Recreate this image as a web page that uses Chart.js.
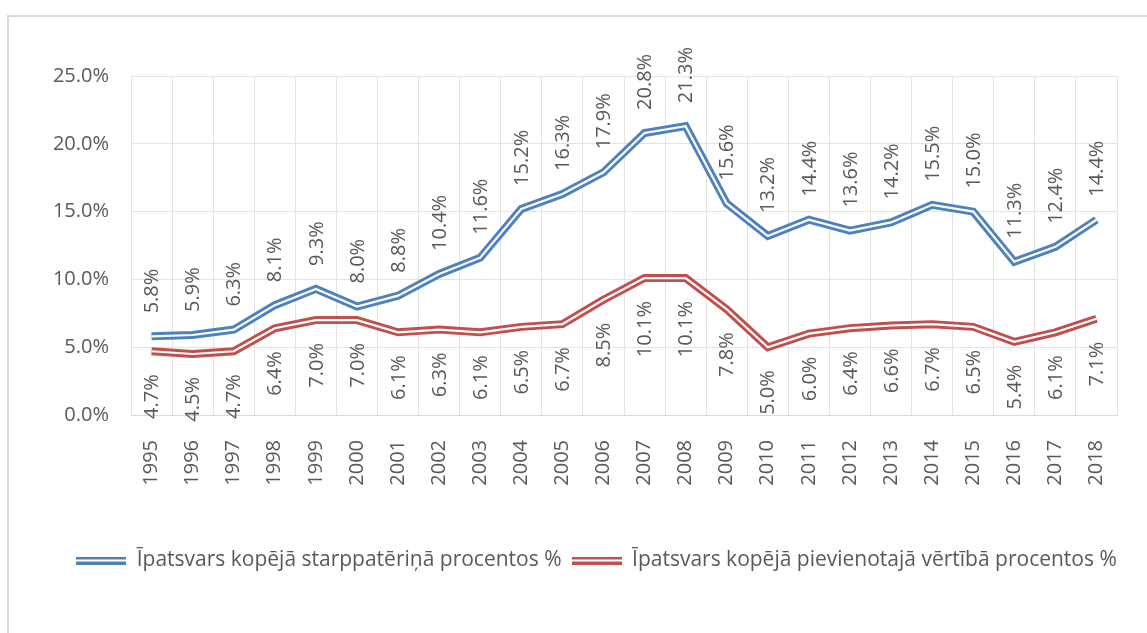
<!DOCTYPE html>
<html>
<head>
<meta charset="utf-8">
<script src="https://cdn.jsdelivr.net/npm/chart.js@4/dist/chart.umd.min.js"></script>
<style>
  html, body { margin: 0; padding: 0; background: #fff; }
  #wrap { position: relative; width: 1147px; height: 633px; overflow: hidden; }
  #frame { position: absolute; left: 7px; top: 15px; width: 1200px; height: 700px;
           border-left: 2px solid #d9d9d9; border-top: 2px solid #d9d9d9; }
  canvas { position: absolute; left: 0; top: 0; }
</style>
</head>
<body>
<div id="wrap">
  <div id="frame"></div>
  <canvas id="chart" width="1147" height="633"></canvas>
</div>
<script>
const years = ['1995','1996','1997','1998','1999','2000','2001','2002','2003','2004','2005','2006',
               '2007','2008','2009','2010','2011','2012','2013','2014','2015','2016','2017','2018'];
const starppateriņs = [5.8, 5.9, 6.3, 8.1, 9.3, 8.0, 8.8, 10.4, 11.6, 15.2, 16.3, 17.9,
                       20.8, 21.3, 15.6, 13.2, 14.4, 13.6, 14.2, 15.5, 15.0, 11.3, 12.4, 14.4];
const pievienotaVertiba = [4.7, 4.5, 4.7, 6.4, 7.0, 7.0, 6.1, 6.3, 6.1, 6.5, 6.7, 8.5,
                           10.1, 10.1, 7.8, 5.0, 6.0, 6.4, 6.6, 6.7, 6.5, 5.4, 6.1, 7.1];
const seriesNames = ['Īpatsvars kopējā starppatēriņā procentos %',
                     'Īpatsvars kopējā pievienotajā vērtībā procentos %'];

const BLUE = '#4F81BD';
const RED = '#C0504D';
const TEXT = '#595959';
const FONT = "'Open Sans', sans-serif";

// small double-line sample for the legend
function doubleLine(color) {
  const c = document.createElement('canvas');
  c.width = 50; c.height = 8;
  const g = c.getContext('2d');
  g.fillStyle = color;
  g.fillRect(0, 0, 50, 3);
  g.fillRect(0, 5, 50, 3);
  return c;
}

// value labels, rotated, blue above the line and red below it
const valueLabels = {
  id: 'valueLabels',
  afterDatasetsDraw(chart) {
    const ctx = chart.ctx;
    ctx.save();
    ctx.font = '20px ' + FONT;
    ctx.fillStyle = TEXT;
    ctx.textBaseline = 'middle';
    chart.data.datasets.forEach((ds, i) => {
      if (!ds.labelPos) return;
      const meta = chart.getDatasetMeta(i);
      meta.data.forEach((pt, j) => {
        const txt = ds.data[j].toFixed(1) + '%';
        ctx.save();
        ctx.translate(pt.x, pt.y);
        ctx.rotate(-Math.PI / 2);
        if (ds.labelPos === 'above') {
          ctx.textAlign = 'left';
          ctx.fillText(txt, 23, 1);
        } else {
          ctx.textAlign = 'right';
          ctx.fillText(txt, -23, 1);
        }
        ctx.restore();
      });
    });
    ctx.restore();
  }
};

// the legend sits a bit right of the canvas centre in the original
const legendShift = {
  id: 'legendShift',
  afterLayout(chart) {
    chart.legend.left += 38;
    chart.legend.right += 38;
  }
};

new Chart(document.getElementById('chart'), {
  type: 'line',
  data: {
    labels: years,
    datasets: [
      { label: seriesNames[0], data: starppateriņs, borderColor: BLUE, borderWidth: 8,
        pointRadius: 0, tension: 0, order: 2, labelPos: 'above', pointStyle: doubleLine(BLUE) },
      { label: 'inner1', data: starppateriņs, borderColor: '#fff', borderWidth: 2.2,
        pointRadius: 0, tension: 0, order: 1 },
      { label: seriesNames[1], data: pievienotaVertiba, borderColor: RED, borderWidth: 8,
        pointRadius: 0, tension: 0, order: 2, labelPos: 'below', pointStyle: doubleLine(RED) },
      { label: 'inner2', data: pievienotaVertiba, borderColor: '#fff', borderWidth: 2.2,
        pointRadius: 0, tension: 0, order: 1 }
    ]
  },
  options: {
    responsive: false,
    animation: false,
    layout: { padding: { top: 76, right: 30, bottom: 52, left: 0 } },
    plugins: {
      tooltip: { enabled: false },
      legend: {
        position: 'bottom',
        labels: {
          filter: item => !item.text.startsWith('inner'),
          usePointStyle: true,
          pointStyleWidth: 50,
          padding: 10,
          color: TEXT,
          font: { family: FONT, size: 21 }
        }
      }
    },
    scales: {
      x: {
        offset: true,
        grid: { offset: true, color: '#e3e3e3', drawTicks: false },
        border: { color: '#d9d9d9' },
        ticks: { color: TEXT, font: { family: FONT, size: 20 }, minRotation: 90, maxRotation: 90, padding: 25 },
        afterFit(scale) { scale.height = 125; }
      },
      y: {
        min: 0, max: 25,
        grid: { color: '#e3e3e3', drawTicks: false },
        border: { display: false },
        ticks: { stepSize: 5, color: TEXT, font: { family: FONT, size: 20 }, padding: 22,
                 callback: v => v.toFixed(1) + '%' },
        afterFit(scale) { scale.width = 131; }
      }
    }
  },
  plugins: [valueLabels, legendShift]
});
</script>
</body>
</html>
